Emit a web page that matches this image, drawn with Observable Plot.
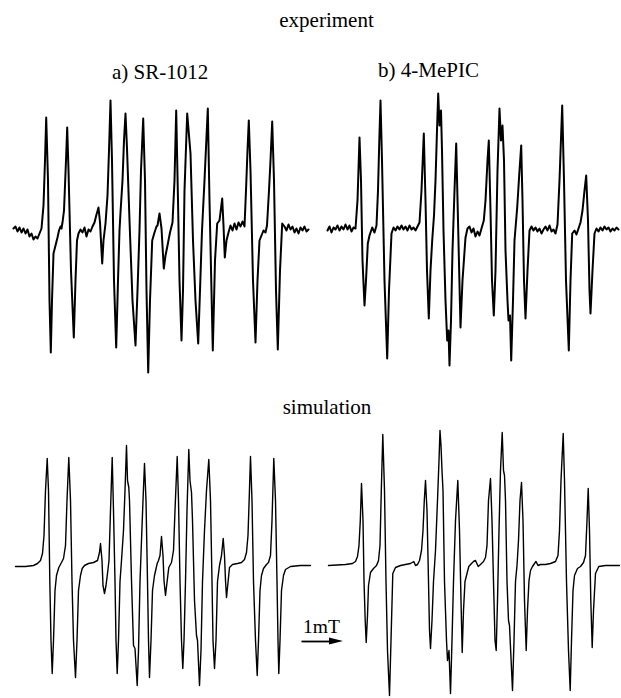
<!DOCTYPE html>
<html>
<head>
<meta charset="utf-8">
<script src="https://cdn.jsdelivr.net/npm/d3@7"></script>
<script src="https://cdn.jsdelivr.net/npm/@observablehq/plot@0.6"></script>
<style>
  html, body { margin: 0; padding: 0; background: #fff; }
  #fig { position: relative; width: 621px; height: 698px; overflow: hidden; color: #000; }
  .lbl { position: absolute; font-family: "Liberation Serif", "Times New Roman", Times, "DejaVu Serif", serif;
         font-size: 21px; line-height: 21px; white-space: nowrap; }
  .ctr { transform: translateX(-50%); }
  .panel { position: absolute; }
  .panel svg { display: block; }
</style>
</head>
<body>
<div id="fig"></div>
<script>
// ---------------- data ----------------
// Each spectrum: [field position in data points (42 points = 1 mT), signal in a.u.]
const rowTitles = ["experiment", "simulation"];
const panelLabels = ["a) SR-1012", "b) 4-MePIC"];
const scaleLabel = "1mT";
const scaleMT = 1;
const POINTS_PER_MT = 42;

const expA = [[3,2],[5,4],[7,-1],[9,3],[11,-2],[13,2],[15,-3],[17,1],[19,-6],[21,-3],[23,-9],[25,-6],[27,-8],[29,-3],[31,2],
[33,25],[34.5,70],[35.7,113],[37.5,50],[39,-70],[40.3,-122],[41.5,-70],[43,-23],[45,-15],[47,-7],[48.5,0],[50,4],[51,2],[52,8],
[53.5,20],[55.5,70],[56.7,103],[58,60],[60.5,-40],[63.3,-107],[65,-50],[66.5,-10],[68,-3],
[70,1],[72,-2],[74,3],[76,-6],[78,1],[80,-1],[82,4],[84,8],[86,16],[88,23],[89.5,8],[91.7,-33],[93,-10],[95,7],
[97,35],[98.5,80],[100,130],[101.5,70],[103.5,-50],[105.7,-117],[107.5,-50],[109,0],[110,18],
[112,50],[113.5,90],[115,117],[116.5,82],[119,10],[122,-70],[125,-115],[127,-60],[129,0],
[130.5,60],[132.7,112],[134.5,50],[136,-60],[137.7,-142],[139.5,-70],[141.7,-10],[144,-2],[146,4],
[147,5],[149,17],[151,2],[153.3,-38],[155,-25],[157,-15],[159.5,-2],[162,8],
[164,50],[165.7,120],[167.5,30],[169,-50],[171,-110],[172.5,-60],[174,40],
[176.7,117],[180,77],[182.5,-10],[185,-70],[187.7,-113],[189.5,-60],[191.5,0],[194,50],
[197.3,122],[199,30],[202.3,-120],[204.5,-30],[206.7,7],[209,10],[211.7,32],[213,5],[214.3,-27],[216,-10],[218,-2],
[220,5],[222,0],[224,7],[226,1],[228,8],[230,4],[232,9],[234,4],
[235.5,40],[237,80],[238.3,110],[240,60],[242.5,-50],[245,-112],[247,-50],[249,-10],[251,-5],[253,0],[255,-2],[256.5,5],
[258.5,40],[260,70],[261.7,109],[263.5,50],[265.5,-60],[267.3,-119],[269.5,-40],[271.7,7],
[274,4],[276,0],[278,6],[280,1],[282,4],[284,-2],[286,2],[288,-3],[290,3],[292,0],[294,4],[296,-1],[298,1]];

const expB = [[7,0],[9,4],[11,-2],[13,3],[15,1],[17,5],[19,0],[21,4],[23,1],[25,6],[27,1],[29,5],[31,-1],[33,3],[35,2],
[37,30],[39,93],[40.5,50],[42,-30],[44,-75],[45.5,-50],[47.3,-13],[49,-5],[51.7,3],[54,-2],[56,5],
[57.5,40],[58.8,90],[60,130],[61.5,70],[64,-50],[66.7,-128],[68.5,-60],[71,-3],[73,3],
[75,0],[77,4],[79,1],[81,5],[83,1],[85,4],[87,0],[89,5],[91,1],[93,3],[95,0],[97,4],[99,8],
[101,40],[103.3,97],[105,30],[106.5,-40],[108.3,-88],[110,-40],[111.7,-10],[113.5,15],[115,50],
[116.5,100],[117.7,137],[119,105],[120.5,120],[121.5,80],[123,0],[125,-70],[126.7,-110],[128,-100],[129,-135],[130.5,-90],[132,-20],[134,40],
[135.7,87],[137.5,10],[140,-97],[142,-50],[145,-7],[147,2],
[149,4],[151,-2],[153,2],[155,-6],[157,-1],[159,-5],[161,2],[163.3,10],
[165,30],[167,70],[168.3,90],[170,20],[171.5,-50],[173.3,-85],[175,-40],[177,60],
[179,122],[180.5,90],[182,105],[183.5,70],[185,-20],[187,-70],[188,-90],[189.5,-85],[190.7,-130],[192.5,-70],[194,-10],[196.7,23],
[199,60],[200.7,85],[202,30],[203.5,-50],[205,-88],[207,-40],[209,0],[211,4],
[213,0],[215,3],[217,-1],[219,2],[221,-3],[223,1],[225,4],[227,0],[229,5],[231,-1],[233,1],[235,-3],[237,6],
[239,50],[241.7,125],[243.5,50],[245.5,-50],[248.3,-120],[250,-50],[251.7,-3],[254,0],[256,-4],[258,2],[260,8],[262,20],
[264,40],[265.7,55],[267.5,10],[269,-60],[270,-83],[272,-40],[274,-3],
[276,2],[278,-1],[280,3],[282,0],[284,4],[286,1],[288,3],[290,-1],[292,2],[294,0],[296,3],[298,1]];

const simA = [[5,-1],[15,-1],[23,0],[27,2],[30,5],[32,12],[33.5,30],[35,75],[36.7,107],[38,75],[39.3,-15],[40.5,-75],[41.7,-108],[43,-75],[44.5,-25],[46,-10],[48.3,-2],
[51,3],[53,7],[55,20],[56.5,65],[58.3,108],[60,65],[61.5,-16],[63,-75],[65,-112],[66.5,-75],[68,-25],[70,-10],[71.7,-3],
[74,0],[78,2],[83,3],[87,5],[89,13],[90,22],[91.5,5],[92.5,-20],[94,-28],[95.5,-20],[97,-8],
[98.5,5],[100,55],[101.7,108],[103,55],[104.5,-16],[105.5,-75],[106.7,-108],[108,-75],[109.5,-16],
[111,5],[113,35],[114.5,75],[116,120],[117,85],[118.3,78],[119,65],[121,-15],[123,-80],[124.5,-83],[126.7,-120],[128,-85],[129.5,-16],
[131,25],[132.5,65],[134,102],[135.5,65],[137,-16],[138,-75],[139,-112],[140.5,-75],[142,-25],[144,-10],[146.7,2],
[148,5],[149.5,10],[151,29],[152.5,10],[153.5,-15],[155,-30],[156.5,-17],[158.3,-2],
[161,3],[163,15],[164.5,55],[166.7,109],[168,65],[169.5,-16],[171,-75],[172.3,-103],[173.5,-75],[175,-16],
[176.5,55],[178.3,116],[179.5,85],[181,73],[182,45],[184,-35],[186,-70],[187,-75],[189,-120],[190.5,-85],[192,-16],
[194,35],[196,75],[198.3,106],[200,65],[201.5,-16],[202.5,-75],[204,-103],[205.5,-75],[207,-16],
[209,0],[211,10],[212.7,27],[214,10],[215,-15],[216,-32],[217.5,-17],[219,-2],
[222,1],[227,2],[231,3],[234,6],[236,13],[237.5,30],[238.8,70],[240,109],[241.5,65],[243,-16],[245,-75],[246.7,-110],[248,-75],[249.5,-25],[251,-10],[253,-3],
[256,1],[258,3],[260,10],[261.5,45],[263.3,107],[265,65],[266.5,-16],[267.5,-75],[268.3,-108],[269.5,-75],[271,-25],[273,-10],[275,-4],
[280,-1],[290,0],[300,0]];

const simB = [[8,0],[25,1],[32,2],[35,4],[37,9],[38.5,20],[39.8,45],[41,82],[42.5,45],[43.5,-15],[44.7,-55],[45.7,-77],[47,-50],[48,-20],[50,-7],[53,-3],
[56,0],[58,5],[59.5,20],[60.8,75],[62.3,131],[64,75],[65.5,-16],[67,-85],[69,-130],[70.5,-75],[72.3,-8],[75,-2],
[80,0],[85,1],[90,2],[93.3,4],[95,0],[97,1],
[99,5],[101,15],[102.5,35],[103.8,65],[105,85],[106.5,55],[108,-16],[109,-65],[110,-83],[111.5,-55],[113,-16],
[115,15],[117,65],[118.5,105],[119.5,135],[120.5,120],[121.5,95],[122.5,75],[124,-16],[126,-75],[127,-95],[128.5,-85],[130,-128],[131.5,-75],[133,-16],
[135,45],[137.3,85],[139,35],[140.5,-35],[141.7,-87],[143,-45],[144.5,-16],[146,-10],[148.3,-1],
[151,2],[153,4],[155,5],[157.7,-1],[160,1],[163,4],
[165,8],[166.5,20],[168,65],[170,87],[171.5,45],[173,-16],[174.5,-75],[175.7,-85],[177,-35],
[178.5,35],[180,95],[181.7,133],[183,95],[184,90],[185,65],[186.5,-16],[188,-55],[189,-60],[192,-125],[193.5,-75],[195,-16],
[196.5,0],[198,25],[199.5,65],[201,83],[202.5,45],[204,-35],[205.7,-85],[207,-45],[208.5,-15],[210,-5],[212,-1],
[214,2],[215.5,4],[217.5,0],[220,1],[225,1],[230,2],[235,4],
[237.5,10],[239,35],[240.5,85],[242.7,132],[244,85],[246,-16],[248,-85],[249.7,-125],[251,-75],[252.5,-25],[254,-10],[257,-3],
[260,-1],[263,3],[265,10],[266.5,45],[267.7,77],[269,35],[270.3,-35],[271.7,-82],[273,-45],[275,-8],[278.3,-1],
[285,0],[299,0]];

// ---------------- layout ----------------
const fig = document.getElementById("fig");

function label(text, left, top, centered) {
  const d = document.createElement("div");
  d.className = "lbl" + (centered ? " ctr" : "");
  d.style.left = left + "px";
  d.style.top = top + "px";
  d.textContent = text;
  fig.appendChild(d);
}

function spectrum(pairs, {left, top, height, baseline, strokeWidth}) {
  const data = pairs.map(([field, signal]) => ({field, signal}));
  const svg = Plot.plot({
    width: 300,
    height,
    margin: 0,
    x: {domain: [0, 300], range: [0, 300], axis: null},
    y: {domain: [baseline - height, baseline], range: [height, 0], axis: null},
    style: {background: "transparent", overflow: "visible"},
    marks: [
      Plot.line(data, {x: "field", y: "signal", stroke: "#000", strokeWidth,
                       strokeLinejoin: "round", strokeLinecap: "round"})
    ]
  });
  const wrap = document.createElement("div");
  wrap.className = "panel";
  wrap.style.left = left + "px";
  wrap.style.top = top + "px";
  wrap.appendChild(svg);
  fig.appendChild(wrap);
}

label(rowTitles[0], 326.5, 9.5, true);
label(panelLabels[0], 112, 61.5, false);
label(panelLabels[1], 378, 59.5, false);
label(rowTitles[1], 327, 396.5, true);

spectrum(expA, {left: 10, top: 80, height: 300, baseline: 150, strokeWidth: 2});
spectrum(expB, {left: 320, top: 80, height: 300, baseline: 150, strokeWidth: 2});
spectrum(simA, {left: 10, top: 420, height: 278, baseline: 145, strokeWidth: 1.4});
spectrum(simB, {left: 320, top: 420, height: 278, baseline: 145, strokeWidth: 1.4});

// ---------------- 1 mT scale bar ----------------
{
  const start = 11, end = start + scaleMT * POINTS_PER_MT, headLen = 14, yBar = 31;
  const sb = Plot.plot({
    width: 70, height: 40, margin: 0,
    x: {domain: [0, 70], range: [0, 70], axis: null},
    y: {domain: [0, 40], range: [0, 40], axis: null},
    style: {background: "transparent", overflow: "visible"},
    marks: [
      Plot.link([{x1: start, x2: end - headLen + 2, y: yBar}],
        {x1: "x1", x2: "x2", y1: "y", y2: "y", stroke: "#000", strokeWidth: 1.8}),
      Plot.areaY([{x: end - headLen, y1: yBar - 3.6, y2: yBar + 3.6}, {x: end, y1: yBar, y2: yBar}],
        {x: "x", y1: "y1", y2: "y2", fill: "#000"}),
      Plot.text([scaleLabel], {x: (start + end) / 2 - 1, y: 15.8, text: d => d,
        fontSize: 19.5, fontFamily: "Liberation Serif, Times New Roman, serif", fill: "#000"})
    ]
  });
  const wrap = document.createElement("div");
  wrap.className = "panel";
  wrap.style.left = "290px";
  wrap.style.top = "610px";
  wrap.appendChild(sb);
  fig.appendChild(wrap);
}
</script>
</body>
</html>
